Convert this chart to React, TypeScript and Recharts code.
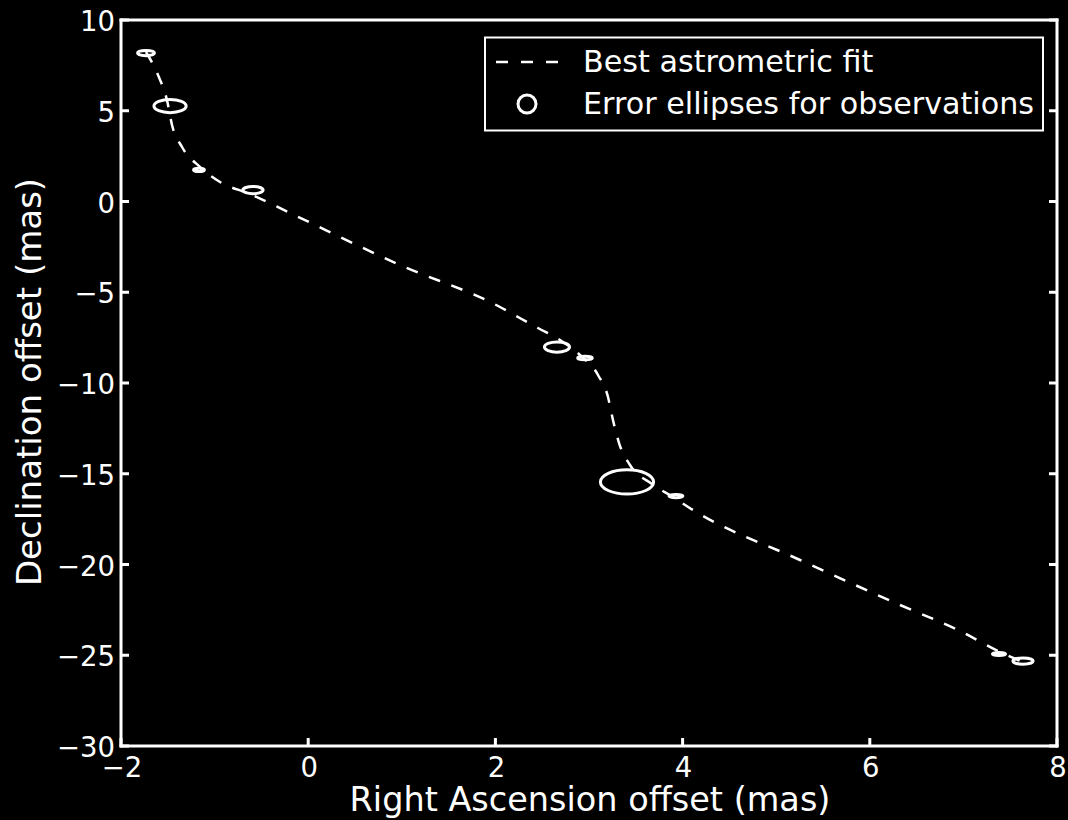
import React from 'react';
import { ComposedChart, Line, Scatter, XAxis, YAxis, Label } from 'recharts';

// ---- data ----
const X_TICKS = [-2, 0, 2, 4, 6, 8];
const Y_TICKS = [-30, -25, -20, -15, -10, -5, 0, 5, 10];
const X_DOMAIN = [-2, 8];
const Y_DOMAIN = [-30, 10];

// best astrometric fit (RA offset, Dec offset) in mas
const fitX = [-1.733, -1.605, -1.509, -1.455, -1.348, -1.156, -0.942, -0.622, -0.194, 0.981, 2.049, 2.241, 2.455, 2.69, 2.904, 3.096, 3.203, 3.256, 3.321, 3.438, 3.673, 3.897, 4.111, 5.254, 6.323, 6.964, 7.391, 7.637];
const fitY = [8.237, 6.97, 5.592, 4.215, 3.003, 1.901, 1.074, 0.413, -0.634, -3.499, -5.813, -6.364, -6.97, -7.631, -8.457, -9.559, -10.771, -12.039, -13.306, -14.518, -15.565, -16.281, -16.997, -19.752, -22.231, -23.664, -24.821, -25.372];

// observations: centres and error-ellipse semi-axes (mas)
const obsX = [-1.733, -1.476, -1.167, -0.59, 2.658, 2.957, 3.406, 3.929, 7.38, 7.637];
const obsY = [8.18, 5.26, 1.74, 0.63, -8.02, -8.62, -15.45, -16.23, -24.93, -25.32];
const obsRx = [0.09, 0.172, 0.058, 0.108, 0.134, 0.078, 0.284, 0.074, 0.07, 0.108];
const obsRy = [0.145, 0.365, 0.09, 0.2, 0.282, 0.1, 0.668, 0.09, 0.08, 0.172];

const SERIES_NAMES = ['Best astrometric fit', 'Error ellipses for observations'];
const X_LABEL = 'Right Ascension offset (mas)';
const Y_LABEL = 'Declination offset (mas)';

// ---- layout ----
const W = 1068;
const H = 820;
const LEFT_W = 121;
const RIGHT_W = 11;
const TOP_H = 20;
const BOTTOM_H = 74;
const PLOT_W = W - LEFT_W - RIGHT_W;
const PLOT_H = H - TOP_H - BOTTOM_H;
const PX_PER_X = PLOT_W / (X_DOMAIN[1] - X_DOMAIN[0]);
const PX_PER_Y = PLOT_H / (Y_DOMAIN[1] - Y_DOMAIN[0]);
const FONT = '"DejaVu Sans", Verdana, sans-serif';
const TICK_LEN = 8;
const FG = '#ffffff';

const fitData = fitX.map((x, i) => ({ x, y: fitY[i] }));
const obsData = obsX.map((x, i) => ({ x, y: obsY[i], rx: obsRx[i], ry: obsRy[i] }));

const fmt = (v: number) => (v < 0 ? '\u2212' + Math.abs(v) : String(v));

const BottomTick = (props: any) => {
  const { x, y, payload } = props;
  return (
    <g>
      <line x1={x} y1={y} x2={x} y2={y - TICK_LEN} stroke={FG} strokeWidth={3} />
      <text x={x + 1} y={y + 31} textAnchor="middle" fill={FG} fontSize={27.5} fontFamily={FONT}>
        {fmt(payload.value)}
      </text>
    </g>
  );
};

const TopTick = (props: any) => {
  const { x, y } = props;
  return <line x1={x} y1={y} x2={x} y2={y + TICK_LEN} stroke={FG} strokeWidth={3} />;
};

const LeftTick = (props: any) => {
  const { x, y, payload } = props;
  return (
    <g>
      <line x1={x} y1={y} x2={x + TICK_LEN} y2={y} stroke={FG} strokeWidth={3} />
      <text x={x - 6} y={y + 11} textAnchor="end" fill={FG} fontSize={27.5} fontFamily={FONT}>
        {fmt(payload.value)}
      </text>
    </g>
  );
};

const RightTick = (props: any) => {
  const { x, y } = props;
  return <line x1={x} y1={y} x2={x - TICK_LEN} y2={y} stroke={FG} strokeWidth={3} />;
};

const EllipseShape = (props: any) => {
  const { cx, cy, payload } = props;
  if (cx == null || cy == null) return null;
  return (
    <ellipse
      cx={cx}
      cy={cy}
      rx={payload.rx * PX_PER_X}
      ry={payload.ry * PX_PER_Y}
      fill="none"
      stroke={FG}
      strokeWidth={3}
    />
  );
};

const XTitle = (props: any) => {
  const vb = props.viewBox || {};
  return (
    <text x={vb.x + vb.width / 2 + 1} y={811} textAnchor="middle" fill={FG} fontSize={33.5} fontFamily={FONT}>
      {X_LABEL}
    </text>
  );
};

const YTitle = (props: any) => {
  const vb = props.viewBox || {};
  const cy = vb.y + vb.height / 2 - 1;
  return (
    <text
      x={41}
      y={cy}
      transform={`rotate(-90, 41, ${cy})`}
      textAnchor="middle"
      fill={FG}
      fontSize={34}
      fontFamily={FONT}
    >
      {Y_LABEL}
    </text>
  );
};

const LegendBox = () => (
  <svg
    width={W}
    height={H}
    style={{ position: 'absolute', left: 0, top: 0, pointerEvents: 'none' }}
  >
    <rect x={485} y={37.5} width={558} height={93} fill="#000" stroke={FG} strokeWidth={2} />
    <line x1={496} y1={62} x2={560} y2={62} stroke={FG} strokeWidth={2.5} strokeDasharray="12 13" />
    <text x={583} y={72} fill={FG} fontSize={30.2} fontFamily={FONT}>
      {SERIES_NAMES[0]}
    </text>
    <circle cx={527} cy={104} r={9} fill="none" stroke={FG} strokeWidth={3} />
    <text x={583} y={114} fill={FG} fontSize={30.2} fontFamily={FONT}>
      {SERIES_NAMES[1]}
    </text>
  </svg>
);

export default function App() {
  return (
    <div style={{ position: 'fixed', left: 0, top: 0, width: W, height: H, background: '#000' }}>
      <ComposedChart
        width={W}
        height={H}
        margin={{ top: 0, right: 0, bottom: 0, left: 0 }}
        style={{ background: '#000' }}
      >
        <XAxis
          xAxisId="bottom"
          orientation="bottom"
          type="number"
          dataKey="x"
          domain={X_DOMAIN}
          ticks={X_TICKS}
          interval={0}
          height={BOTTOM_H}
          tickSize={0}
          tickMargin={0}
          tickLine={false}
          tick={<BottomTick />}
          axisLine={{ stroke: FG, strokeWidth: 3, strokeLinecap: 'square' }}
          allowDataOverflow
        >
          <Label content={<XTitle />} />
        </XAxis>
        <XAxis
          xAxisId="top"
          orientation="top"
          type="number"
          domain={X_DOMAIN}
          ticks={X_TICKS}
          interval={0}
          height={TOP_H}
          tickSize={0}
          tickMargin={0}
          tickLine={false}
          tick={<TopTick />}
          axisLine={{ stroke: FG, strokeWidth: 3, strokeLinecap: 'square' }}
          allowDataOverflow
        />
        <YAxis
          yAxisId="left"
          orientation="left"
          type="number"
          dataKey="y"
          domain={Y_DOMAIN}
          ticks={Y_TICKS}
          interval={0}
          width={LEFT_W}
          tickSize={0}
          tickMargin={0}
          tickLine={false}
          tick={<LeftTick />}
          axisLine={{ stroke: FG, strokeWidth: 3, strokeLinecap: 'square' }}
          allowDataOverflow
        >
          <Label content={<YTitle />} />
        </YAxis>
        <YAxis
          yAxisId="right"
          orientation="right"
          type="number"
          domain={Y_DOMAIN}
          ticks={Y_TICKS}
          interval={0}
          width={RIGHT_W}
          tickSize={0}
          tickMargin={0}
          tickLine={false}
          tick={<RightTick />}
          axisLine={{ stroke: FG, strokeWidth: 3, strokeLinecap: 'square' }}
          allowDataOverflow
        />
        <Line
          xAxisId="bottom"
          yAxisId="left"
          name={SERIES_NAMES[0]}
          data={fitData}
          dataKey="y"
          type="monotone"
          stroke={FG}
          strokeWidth={2.5}
          strokeDasharray="12 12"
          dot={false}
          activeDot={false}
          isAnimationActive={false}
        />
        <Scatter
          xAxisId="bottom"
          yAxisId="left"
          name={SERIES_NAMES[1]}
          data={obsData}
          dataKey="y"
          shape={<EllipseShape />}
          isAnimationActive={false}
        />
      </ComposedChart>
      <LegendBox />
    </div>
  );
}
